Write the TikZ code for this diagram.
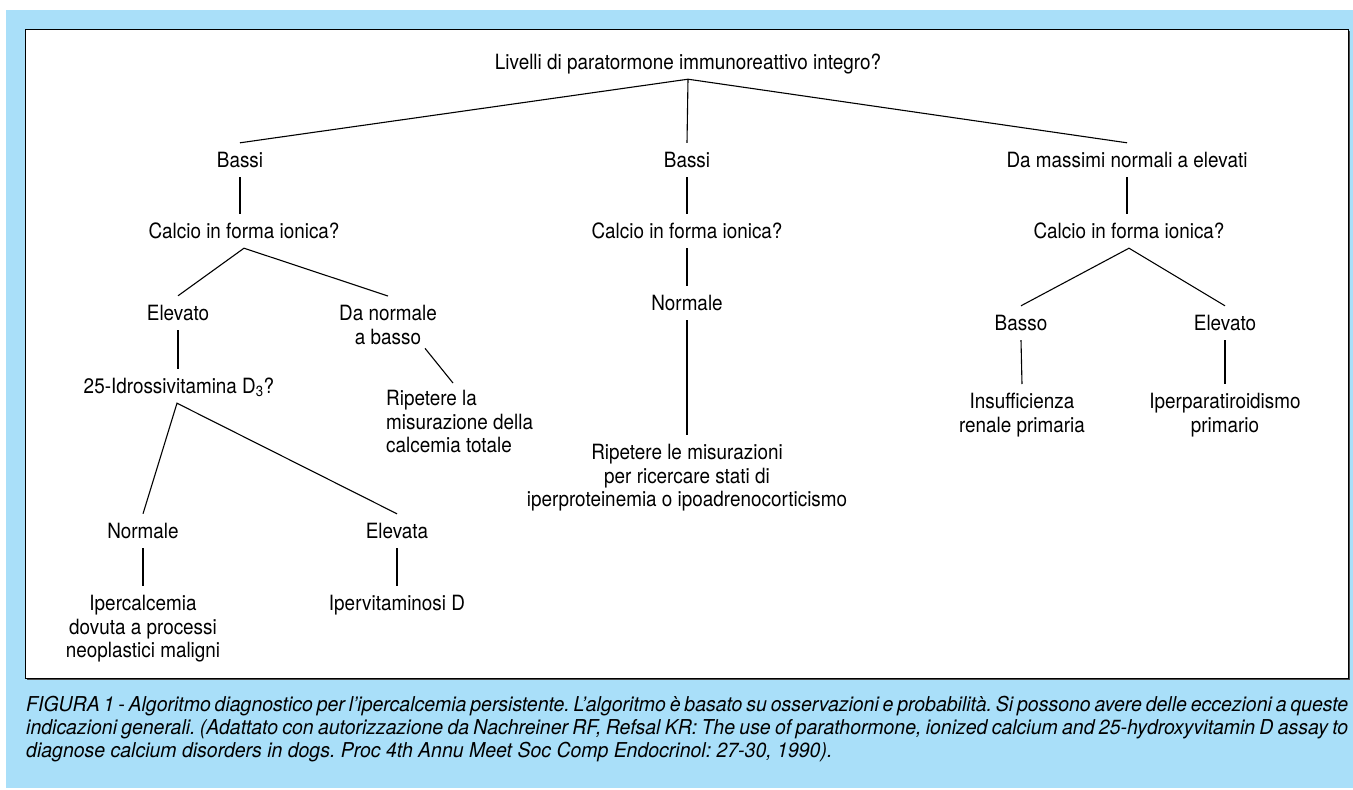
\documentclass[tikz,border=0pt]{standalone}
\usepackage{fontspec}
\setmainfont[FakeStretch=0.9]{TeX Gyre Heros}
\newfontfamily\capfont[FakeStretch=0.95]{TeX Gyre Heros}
\usetikzlibrary{calc}
\definecolor{bgblue}{RGB}{169,223,249}
\frenchspacing
\begin{document}
\begin{tikzpicture}[x=1pt,y=-1pt,
  lbl/.style={font=\fontsize{21}{23.5}\selectfont, text height=15pt, text depth=0pt, inner xsep=1pt, inner ysep=9.5pt},
  mlbl/.style={font=\fontsize{21}{23.5}\selectfont, align=center, anchor=north, inner xsep=1pt, inner ysep=9.4pt},
  conn/.style={draw=black, line width=1.1pt}]
\useasboundingbox (0,0) rectangle (1353,790);
\fill[white] (0,0) rectangle (1353,790);
\fill[bgblue] (6,10) rectangle (1353,788);
\fill[black!70] (27,31) rectangle (1350,680);
\filldraw[fill=white, draw=black, line width=1pt] (25,29) rectangle (1348,678);

% nodes
\node[lbl] (root) at (688,62) {Livelli di paratormone immunoreattivo integro?};
\node[lbl] (b1) at (240,160) {Bassi};
\node[lbl] (b2) at (687,160) {Bassi};
\node[lbl] (b3) at (1127,160) {Da massimi normali a elevati};
\node[lbl] (c1) at (244,231) {Calcio in forma ionica?};
\node[lbl] (c2) at (687,231) {Calcio in forma ionica?};
\node[lbl] (c3) at (1129,231) {Calcio in forma ionica?};
\node[lbl] (e1) at (178,313) {Elevato};
\node[mlbl] (dn) at (388,296) {Da normale\\a basso};
\node[lbl] (id) at (179,386) {25-Idrossivitamina D\textsubscript{3}?};
\node[mlbl, align=left, anchor=north west] (rl) at (385,381) {Ripetere la\\misurazione della\\calcemia totale};
\node[lbl] (n1) at (143,531) {Normale};
\node[lbl] (ev) at (397,531) {Elevata};
\node[mlbl] (ip) at (143,586) {Ipercalcemia\\dovuta a processi\\neoplastici maligni};
\node[mlbl] (iv) at (397,586) {Ipervitaminosi D};
\node[lbl] (n2) at (687,303) {Normale};
\node[mlbl] (rm) at (687,435) {Ripetere le misurazioni\\per ricercare stati di\\iperproteinemia o ipoadrenocorticismo};
\node[lbl] (bs) at (1021,323) {Basso};
\node[lbl] (e3) at (1225,323) {Elevato};
\node[mlbl] (is) at (1022,384) {Insufficienza\\renale primaria};
\node[mlbl] (pp) at (1225,384) {Iperparatiroidismo\\primario};

% connectors
\draw[conn] (b1.north) -- (root.south) -- (b3.north);
\draw[conn] (root.south) -- (b2.north);
\draw[conn] (b1.south) -- (b1.south |- c1.north);
\draw[conn] (b2.south) -- (c2.north);
\draw[conn] (b3.south) -- (b3.south |- c3.north);
\draw[conn] (e1.north) -- (c1.south) -- (dn.north);
\draw[conn] (e1.south) -- (e1.south |- id.north);
\draw[conn] ($(dn.south)+(37,-6)$) -- ($(rl.north west)+(68,2)$);
\draw[conn] (n1.north) -- ($(id.south)+(-2,0)$) -- (ev.north);
\draw[conn] (n1.south) -- (ip.north);
\draw[conn] (ev.south) -- (iv.north);
\draw[conn] (c2.south) -- (n2.north);
\draw[conn] (n2.south) -- (rm.north);
\draw[conn] (bs.north) -- (c3.south) -- (e3.north);
\draw[conn] (bs.south) -- (is.north);
\draw[conn] (e3.south) -- (pp.north);

% caption
\node[anchor=north west, inner sep=0pt, text width=1322pt, align=justify,
      font=\capfont\itshape\fontsize{20.5}{23}\selectfont] (cap) at (26,696)
  {FIGURA 1 - Algoritmo diagnostico per l’ipercalcemia persistente. L’algoritmo è basato su osservazioni e probabilità. Si possono avere delle eccezioni a queste\linebreak indicazioni generali. (Adattato con autorizzazione da Nachreiner RF, Refsal KR: The use of parathormone, ionized calcium and 25-hydroxyvitamin D assay to\linebreak diagnose calcium disorders in dogs. Proc 4th Annu Meet Soc Comp Endocrinol: 27-30, 1990).};
\end{tikzpicture}
\end{document}
